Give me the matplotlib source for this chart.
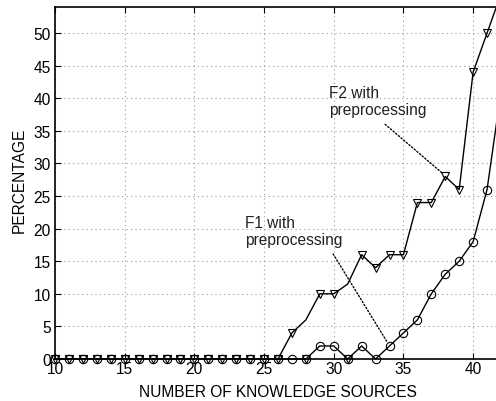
import numpy as np
import matplotlib
matplotlib.use('Agg')
import matplotlib.pyplot as plt

plt.rcParams['font.family'] = ['Liberation Sans', 'DejaVu Sans']

# datos
fuentes = list(range(10, 43))
f1 = [0]*17 + [0, 0, 2, 2, 0, 2, 0, 2, 4, 6, 10, 13, 15, 18, 26, 41]
f2 = [0]*17 + [4, 6, 10, 10, 11.5, 16, 14, 16, 16, 24, 24, 28, 26, 44, 50, 56]
# puntos de F2 sin marcador (28 y 31) y triangulos sueltos en cero
f2_sin_marca = [28, 31]
extra_x = [28, 31]
extra_y = [0, 0]

W, H = 496, 402
fig = plt.figure(figsize=(W/100, H/100), dpi=100)
# el eje derecho queda fuera de la imagen, como en el original
ax = fig.add_axes([55/W, 1 - 360/H, 446/W, 352/H])

fs = 11.2
ms = 6
ax.plot(fuentes, f1, color='black', lw=1, marker='o', ms=ms,
        mfc='none', mec='black', mew=0.8, zorder=3, clip_on=False)
marcas = [i for i, x in enumerate(fuentes) if x not in f2_sin_marca]
ax.plot(fuentes, f2, color='black', lw=1, marker='v', ms=ms,
        mfc='none', mec='black', mew=0.8, markevery=marcas, zorder=4)
# marcadores en cero sin recorte
ceros = [x for x, v in zip(fuentes, f2) if v == 0 and x not in f2_sin_marca]
ax.plot(ceros + extra_x, [0]*len(ceros) + extra_y, ls='none', marker='v',
        ms=ms, mfc='none', mec='black', mew=0.8, zorder=5, clip_on=False)

ax.set_xlim(10, 42)
ax.set_ylim(0, 54)
ax.set_xticks(range(10, 45, 5))
ax.set_yticks(range(0, 55, 5))
ax.grid(True, color='#999999', ls=(0, (1, 3)), lw=0.8)
ax.tick_params(direction='in', top=True, right=False, length=4,
               labelsize=fs, pad=1.5, width=0.8)
ax.tick_params(axis='y', pad=3)
for s in ['left', 'bottom', 'top']:
    ax.spines[s].set_linewidth(1.2)

ax.set_xlabel('NUMBER OF KNOWLEDGE SOURCES', fontsize=fs, labelpad=5.5)
ax.set_ylabel('PERCENTAGE', fontsize=fs)
ax.yaxis.set_label_coords(-0.064, 0.511)

# anotaciones
punteado = dict(arrowstyle='-', ls=(0, (1, 1.5)), lw=1, color='black',
                shrinkA=0, shrinkB=0)
ax.text(29.67, 42.0, 'F2 with\npreprocessing', fontsize=fs, color='#222222',
        va='top', ha='left', linespacing=1.15)
ax.annotate('', xy=(37.85, 28.4), xytext=(33.69, 36.0), arrowprops=punteado)
ax.text(23.64, 22.1, 'F1 with\npreprocessing', fontsize=fs, color='#222222',
        va='top', ha='left', linespacing=1.15)
ax.annotate('', xy=(33.83, 2.6), xytext=(29.96, 16.1), arrowprops=punteado)

fig.savefig('out.png', dpi=100)
